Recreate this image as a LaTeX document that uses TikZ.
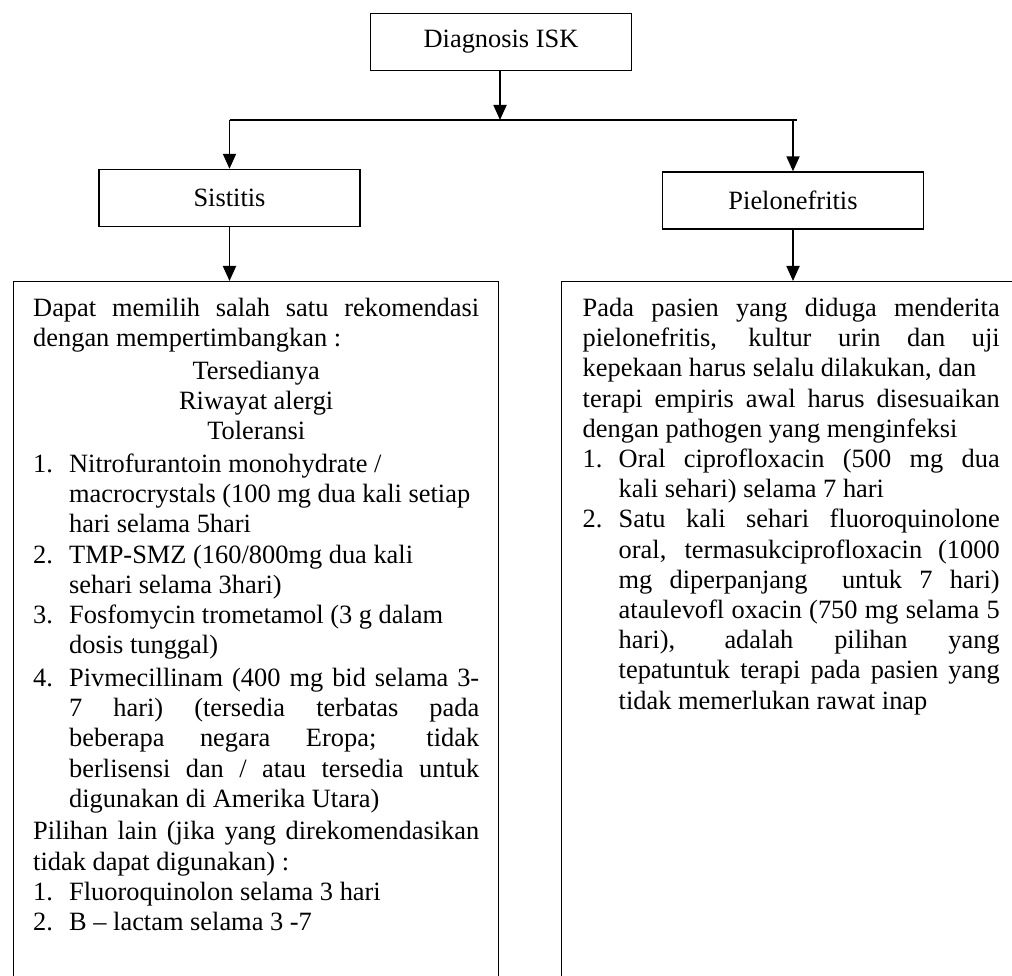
\documentclass[tikz,border=0pt]{standalone}
\usepackage{fontspec}
\setmainfont{Liberation Serif}
\usepackage{tikz}
\usetikzlibrary{arrows.meta}

\newcommand{\butir}[2]{\par\noindent\hangindent=36pt\hangafter=1\makebox[36pt][l]{#1}#2\par}
\newcommand{\isian}{\fontsize{26.4}{30.2}\selectfont\setlength{\parindent}{0pt}%
  \hyphenpenalty=10000\tolerance=10000\emergencystretch=20pt}

\begin{document}
\begin{tikzpicture}[x=1pt, y=-1pt,
    kotak/.style={draw, line width=1.4pt, minimum width=261pt, minimum height=57pt,
      font=\fontsize{26.4}{30}\selectfont},
    isi/.style={draw, line width=1.4pt, anchor=north west, inner xsep=19.5pt, inner ysep=16.5pt},
    garis/.style={line width=1.8pt},
    panah/.style={garis, -{Triangle[length=15pt, width=13pt]}}] % Diagnosis ISK

  \useasboundingbox (0,0) rectangle (1012,976);
  \clip (0,0) rectangle (1012,976);

  \node [kotak] (diag) at (501,42) {Diagnosis ISK};
  \node [kotak] (sistitis) at (229.5,198) {Sistitis};
  \node [kotak] (pielo) at (793,200.5) {Pielonefritis};

  \node [isi] (ketsis) at (13,281) {\begin{minipage}[t][720pt][t]{446pt}\isian
      Dapat memilih salah satu rekomendasi\linebreak dengan mempertimbangkan :\par
      \vspace{2.5pt}
      {\centering Tersedianya\\ Riwayat alergi\\ Toleransi\par}
      \vspace{2.5pt}
      \butir{1.}{Nitrofurantoin monohydrate /\newline macrocrystals (100 mg dua kali setiap\newline hari selama 5hari}
      \butir{2.}{TMP-SMZ (160/800mg dua kali\newline sehari selama 3hari)}
      \butir{3.}{Fosfomycin trometamol (3 g dalam\newline dosis tunggal)}
      \vspace{2.5pt}
      \butir{4.}{Pivmecillinam (400 mg bid selama 3-\linebreak 7 hari) (tersedia terbatas pada\linebreak
        beberapa negara Eropa; tidak\linebreak berlisensi dan / atau tersedia untuk\linebreak
        digunakan di Amerika Utara)}
      \vspace{2.5pt}
      Pilihan lain (jika yang direkomendasikan\linebreak tidak dapat digunakan) :\par
      \butir{1.}{Fluoroquinolon selama 3 hari}
      \butir{2.}{B – lactam selama 3 -7}
    \end{minipage}};

  \node [isi, inner xsep=21pt] (ketpielo) at (561,281) {\begin{minipage}[t][720pt][t]{417pt}\isian
      Pada pasien yang diduga menderita\linebreak pielonefritis, kultur urin dan uji\linebreak
      kepekaan harus selalu dilakukan, dan\newline terapi empiris awal harus disesuaikan\linebreak
      dengan pathogen yang menginfeksi\par
      \butir{1.}{Oral ciprofloxacin (500 mg dua\linebreak kali sehari) selama 7 hari}
      \butir{2.}{Satu kali sehari fluoroquinolone\linebreak oral, termasukciprofloxacin (1000\linebreak
        mg diperpanjang\ \ untuk 7 hari)\linebreak ataulevofl oxacin (750 mg selama 5\linebreak
        hari), adalah pilihan yang\linebreak tepatuntuk terapi pada pasien yang\linebreak
        tidak memerlukan rawat inap}
    \end{minipage}};

  \coordinate (cabang) at (500,120);
  \coordinate (kiri) at (229.5,120);
  \coordinate (kanan) at (797,120);

  \draw [panah] (diag.south -| cabang) -- (cabang);
  \draw [garis] (kiri) -- (kanan);
  \draw [panah] (kiri) -- (sistitis);
  \draw [panah] (pielo |- kanan) -- (pielo);
  \draw [panah] (sistitis) -- (sistitis |- ketsis.north);
  \draw [panah] (pielo) -- (pielo |- ketpielo.north);

\end{tikzpicture}
\end{document}
